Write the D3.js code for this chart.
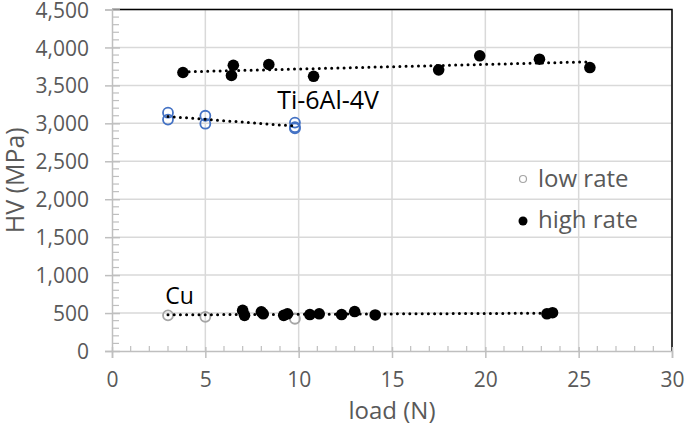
<!DOCTYPE html>
<html><head><meta charset="utf-8">
<script src="https://cdn.jsdelivr.net/npm/d3@7"></script>
<style>body{margin:0;background:#fff}svg{display:block}text{font-family:"Open Sans",sans-serif}</style>
</head><body>
<svg id="c" width="685" height="426"></svg>
<script>
// data: [load N, HV MPa]
const tiLow = [[3,3140],[3,3050],[5,3100],[5,2995],[9.8,3010],[9.8,2950],[9.8,2935]];
const tiHigh = [[3.8,3670],[6.5,3765],[6.4,3630],[8.4,3775],[10.8,3620],[17.5,3705],[19.7,3890],[22.9,3845],[25.6,3735]];
const cuLow = [[3,470],[5,450],[9.8,425]];
const cuHigh = [[7.0,535],[7.1,470],[8.0,515],[8.1,490],[9.2,470],[9.4,490],[10.6,480],[11.1,490],[12.3,480],[13.0,520],[14.1,475],[23.3,490],[23.6,505]];
const xTicks = [0,5,10,15,20,25,30];
const yTicks = [0,500,1000,1500,2000,2500,3000,3500,4000,4500];
const legendLabels = ["low rate","high rate"];
const annotations = [{text:"Ti-6Al-4V", x:8.85, y:3185},{text:"Cu", x:2.85, y:620}];

const svg = d3.select("#c");
const L=112,R=672,T=9.5,B=351;
const x = d3.scaleLinear().domain([0,30]).range([L,R]);
const y = d3.scaleLinear().domain([0,4500]).range([B,T]);
const grey="#595959", grid="#d9d9d9", axisC="#bfbfbf";

// gridlines
svg.append("g").selectAll("line").data(yTicks.slice(1)).join("line")
  .attr("x1",L).attr("x2",R).attr("y1",d=>y(d)).attr("y2",d=>y(d))
  .attr("stroke",grid).attr("stroke-width",1.5);
svg.append("g").selectAll("line").data(xTicks.slice(1)).join("line")
  .attr("y1",T).attr("y2",B).attr("x1",d=>x(d)).attr("x2",d=>x(d))
  .attr("stroke",grid).attr("stroke-width",1.5);
// top & right border
svg.append("path").attr("d",`M${L},${T}H${R}V${B}`).attr("fill","none").attr("stroke","#000").attr("stroke-width",1.5);

// axes
const xa = svg.append("g").attr("transform",`translate(0,${B})`)
  .call(d3.axisBottom(x).tickValues(xTicks).tickSize(7).tickPadding(14));
const ya = svg.append("g").attr("transform",`translate(${L},0)`)
  .call(d3.axisLeft(y).tickValues(yTicks).tickSize(7).tickPadding(16).tickFormat(d3.format(",")));
[xa,ya].forEach(a=>{
  a.select(".domain").attr("stroke",axisC).attr("stroke-width",1.5);
  a.selectAll(".tick line").attr("stroke",axisC).attr("stroke-width",1.5);
  a.selectAll("text").attr("fill",grey).style("font-size","21px").style("font-family","'Open Sans',sans-serif");
});
ya.selectAll(".tick text").attr("dy","0.36em");
// major ticks cross the axis
xa.selectAll(".tick line").attr("y1",-4);
ya.selectAll(".tick line").attr("x1",8);
// minor ticks (inside)
svg.append("g").selectAll("line").data(d3.range(0,4501,100).filter(v=>v%500)).join("line")
  .attr("x1",L).attr("x2",L+7).attr("y1",d=>y(d)).attr("y2",d=>y(d)).attr("stroke",axisC).attr("stroke-width",1.2);
svg.append("g").selectAll("line").data(d3.range(0,31,1).filter(v=>v%5)).join("line")
  .attr("y1",B).attr("y2",B-5).attr("x1",d=>x(d)).attr("x2",d=>x(d)).attr("stroke",axisC).attr("stroke-width",1.2);

// titles
svg.append("text").attr("x",(L+R)/2).attr("y",419).attr("text-anchor","middle").attr("fill",grey)
  .style("font-size","24px").text("load (N)");
svg.append("text").attr("transform",`translate(24,${(T+B)/2}) rotate(-90)`).attr("text-anchor","middle").attr("fill",grey)
  .style("font-size","25px").text("HV (MPa)");

// markers
function openC(data,color){
  svg.append("g").selectAll("circle").data(data).join("circle")
    .attr("cx",d=>x(d[0])).attr("cy",d=>y(d[1])).attr("r",5).attr("fill","none").attr("stroke",color).attr("stroke-width",1.8);
}
function fillC(data){
  svg.append("g").selectAll("circle").data(data).join("circle")
    .attr("cx",d=>x(d[0])).attr("cy",d=>y(d[1])).attr("r",5.8).attr("fill","#000");
}
openC(tiLow,"#4472c4");
openC(cuLow,"#a5a5a5");
fillC(tiHigh);
fillC(cuHigh);

// linear trendlines
function trend(data){
  const xs=data.map(d=>d[0]), ys=data.map(d=>d[1]);
  const mx=d3.mean(xs), my=d3.mean(ys);
  const b=d3.sum(data,d=>(d[0]-mx)*(d[1]-my))/d3.sum(data,d=>(d[0]-mx)**2);
  const a=my-b*mx, x0=d3.min(xs), x1=d3.max(xs);
  svg.append("line").attr("x1",x(x0)).attr("x2",x(x1)).attr("y1",y(a+b*x0)).attr("y2",y(a+b*x1))
    .attr("stroke","#000").attr("stroke-width",3).attr("stroke-linecap","round").attr("stroke-dasharray","0 6.2");
}
trend(tiLow);
trend(tiHigh);
trend(cuLow.concat(cuHigh));

// annotations
svg.append("g").selectAll("text").data(annotations).join("text")
  .attr("x",d=>x(d.x)).attr("y",d=>y(d.y)).attr("fill","#000").style("font-size",(d,i)=>i?"23px":"25px").text(d=>d.text);

// legend
const lg = svg.append("g");
lg.append("circle").attr("cx",523).attr("cy",179).attr("r",3.5).attr("fill","none").attr("stroke","#a5a5a5").attr("stroke-width",1.2);
lg.append("circle").attr("cx",523).attr("cy",221).attr("r",4.5).attr("fill","#000");
lg.selectAll("text").data(legendLabels).join("text").attr("x",538).attr("y",(d,i)=>187+i*41)
  .attr("fill",grey).style("font-size","24px").text(d=>d);
</script>
</body></html>
